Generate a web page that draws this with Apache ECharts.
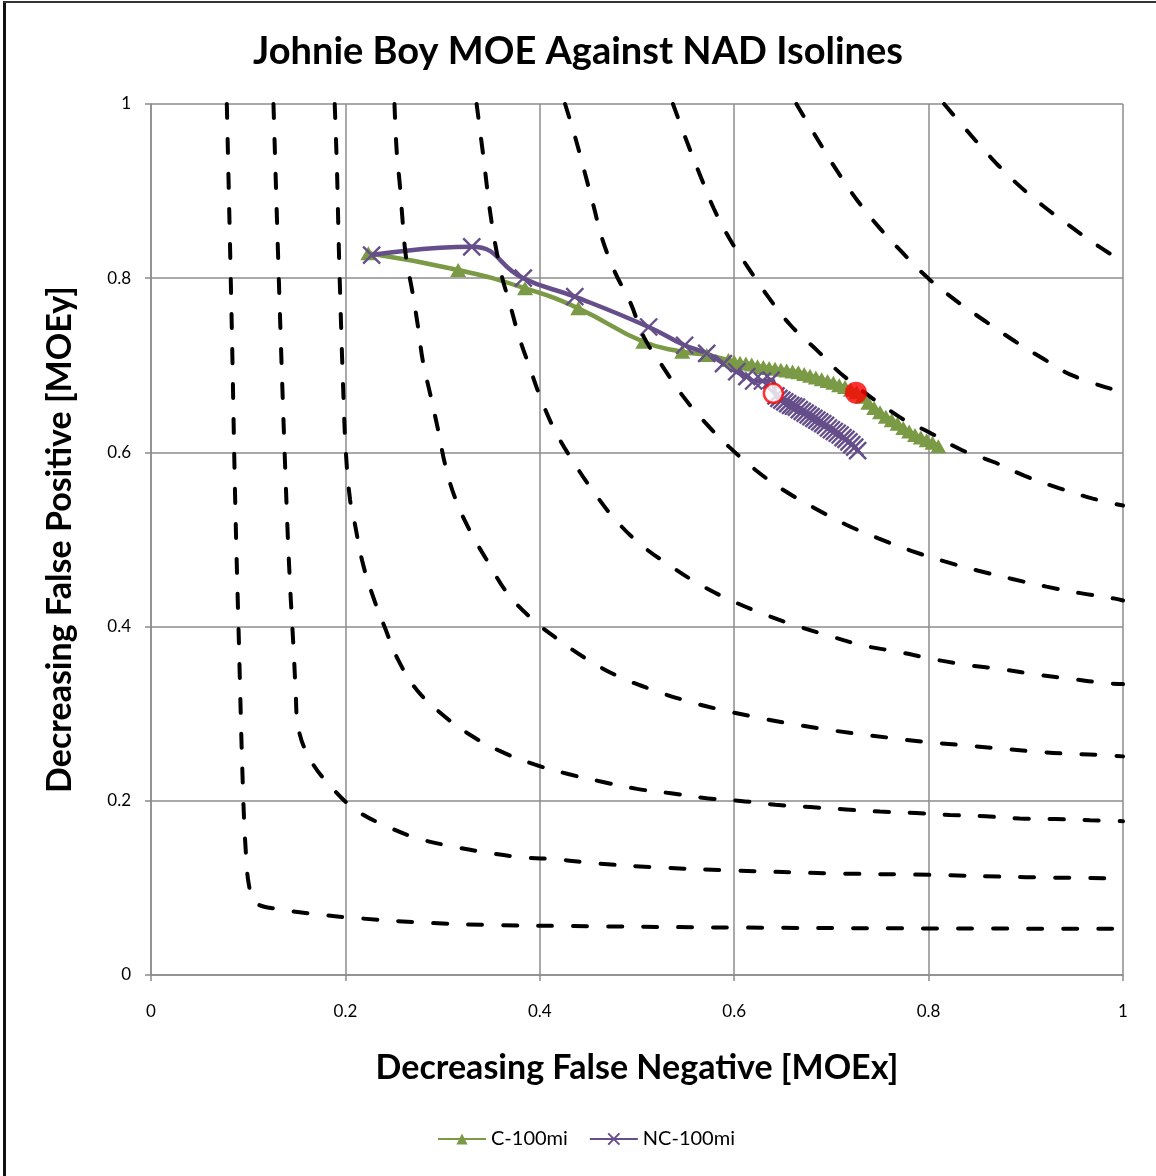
<!DOCTYPE html>
<html>
<head>
<meta charset="utf-8">
<script src="https://cdn.jsdelivr.net/npm/echarts@6/dist/echarts.min.js"></script>
<style>
html,body{margin:0;padding:0;background:#fff;}
#wrap{position:relative;width:1156px;height:1176px;overflow:hidden;background:#fff;}
#chart{position:absolute;left:0;top:0;width:1156px;height:1176px;}
#bl{position:absolute;left:3px;top:1px;width:3px;height:1175px;background:#111;}
#bt{position:absolute;left:3px;top:1px;width:1153px;height:2px;background:#333;}
</style>
</head>
<body>
<div id="wrap"><div id="chart"></div><div id="bl"></div><div id="bt"></div></div>
<script>
// ---------- data ----------
const titleText = 'Johnie Boy MOE Against NAD Isolines';
const xTitle = 'Decreasing False Negative [MOEx]';
const yTitle = 'Decreasing False Positive [MOEy]';
const seriesNames = ['C-100mi', 'NC-100mi'];
const tickLabels = ['0', '0.2', '0.4', '0.6', '0.8', '1'];

// C-100mi (green, triangles)
const c100 = [
 [0.2236,0.8286],[0.316,0.8094],[0.3848,0.7884],[0.4396,0.7654],[0.5065,0.727],[0.5465,0.7156],
 [0.5717,0.7118],[0.594,0.706],[0.600,0.704],[0.606,0.703],[0.612,0.702],[0.618,0.701],[0.624,0.699],
 [0.630,0.698],[0.636,0.697],[0.642,0.696],[0.648,0.695],[0.654,0.694],[0.660,0.693],[0.666,0.692],
 [0.672,0.690],[0.678,0.688],[0.684,0.686],[0.690,0.684],[0.696,0.682],[0.702,0.680],[0.708,0.677],
 [0.714,0.675],[0.720,0.672],[0.726,0.669],[0.732,0.664],[0.738,0.657],[0.744,0.651],[0.750,0.646],
 [0.756,0.641],[0.762,0.637],[0.768,0.633],[0.774,0.628],[0.780,0.624],[0.786,0.620],[0.792,0.617],
 [0.798,0.614],[0.804,0.611],[0.810,0.607]
];
// NC-100mi (purple, crosses)
const nc100 = [
 [0.227,0.8266],[0.33,0.836],[0.383,0.80],[0.436,0.7788],[0.512,0.744],[0.549,0.723],[0.5717,0.7137],
 [0.589,0.702],[0.6026,0.6926],[0.613,0.687],[0.62,0.682],[0.629,0.682],[0.638,0.683],[0.643,0.665],
 [0.646,0.662],[0.649,0.660],[0.652,0.658],[0.655,0.656],[0.658,0.654],[0.661,0.653],[0.664,0.652],
 [0.667,0.649],[0.670,0.647],[0.673,0.645],[0.676,0.643],[0.679,0.641],[0.682,0.639],[0.685,0.637],
 [0.688,0.635],[0.691,0.633],[0.694,0.631],[0.697,0.628],[0.700,0.626],[0.703,0.624],[0.706,0.622],
 [0.709,0.620],[0.712,0.617],[0.715,0.615],[0.718,0.612],[0.721,0.609],[0.724,0.606],[0.727,0.602]
];
// highlighted points
const bestC = [[0.7253,0.6686]];
const bestNC = [[0.6403,0.6678]];

// NAD isolines (dashed)
const iso1 = [[0.078,1],[0.083,0.75],[0.0866,0.546],[0.090,0.4],[0.095,0.2],[0.0983,0.128],[0.1005,0.105],
 [0.104,0.09],[0.11,0.081],[0.1285,0.076],[0.1636,0.0706],[0.2,0.0664],[0.2718,0.0607],[0.344,0.0576],
 [0.452,0.056],[0.6,0.0545],[0.8,0.0535],[1,0.053]];
const iso2 = [[0.126,1],[0.1334,0.733],[0.1398,0.53],[0.143,0.449],[0.145,0.408],[0.147,0.3675],[0.1488,0.3265],
 [0.1512,0.2863],[0.1632,0.2487],[0.1852,0.2162],[0.211,0.1893],[0.2436,0.1702],[0.277,0.156],[0.3124,0.1472],
 [0.3467,0.1403],[0.3828,0.135],[0.4189,0.1327],[0.454,0.1284],[0.5275,0.1232],[0.6,0.12],[0.7,0.1167],
 [0.8,0.115],[0.9,0.1123],[1,0.111]];
const iso3 = [[0.189,1],[0.1914,0.9216],[0.1931,0.8413],[0.1952,0.759],[0.1975,0.68],[0.2005,0.6],[0.2048,0.5456],
 [0.2093,0.5206],[0.2172,0.4758],[0.2275,0.4375],[0.2405,0.3992],[0.2543,0.3617],[0.2735,0.3272],[0.3003,0.2985],
 [0.3285,0.2755],[0.3605,0.2564],[0.3945,0.2418],[0.4292,0.2307],[0.465,0.2216],[0.5,0.2137],[0.5349,0.2086],
 [0.5717,0.203],[0.6066,0.1999],[0.6423,0.1955],[0.6784,0.1928],[0.715,0.19],[0.75,0.1876],[0.787,0.186],
 [0.822,0.1837],[0.8587,0.1822],[0.8937,0.1797],[0.9305,0.179],[0.966,0.1777],[1,0.1766]];
const iso4 = [[0.2505,1],[0.2528,0.945],[0.2562,0.905],[0.2589,0.865],[0.2623,0.8247],[0.2689,0.7845],
 [0.2747,0.7443],[0.2798,0.7041],[0.2877,0.6648],[0.2956,0.6246],[0.3028,0.5852],[0.313,0.5473],[0.3285,0.5092],
 [0.3464,0.4747],[0.366,0.4394],[0.3904,0.4103],[0.4172,0.3866],[0.447,0.3636],[0.4786,0.344],[0.5128,0.3286],
 [0.547,0.316],[0.5816,0.3057],[0.6177,0.297],[0.6523,0.2895],[0.6876,0.2832],[0.7233,0.2773],[0.7586,0.2725],
 [0.7943,0.2678],[0.8311,0.2643],[0.866,0.2607],[0.9029,0.2572],[0.9378,0.2544],[0.9746,0.2528],[1,0.251]];
const iso5 = [[0.335,1],[0.342,0.939],[0.3506,0.863],[0.361,0.802],[0.3686,0.773],[0.3783,0.734],[0.3899,0.6966],
 [0.4023,0.6582],[0.417,0.622],[0.4359,0.5867],[0.4565,0.553],[0.478,0.5224],[0.504,0.494],[0.534,0.47],
 [0.565,0.448],[0.596,0.4305],[0.629,0.415],[0.664,0.401],[0.699,0.389],[0.734,0.378],[0.769,0.371],
 [0.803,0.363],[0.839,0.356],[0.876,0.351],[0.911,0.345],[0.946,0.34],[0.983,0.335],[1,0.334]];
const iso6 = [[0.426,1],[0.4362,0.9626],[0.4457,0.9236],[0.4552,0.8835],[0.464,0.846],[0.4773,0.807],
 [0.4933,0.7716],[0.507,0.7326],[0.527,0.6977],[0.5477,0.664],[0.57,0.6345],[0.5945,0.6066],[0.6232,0.5787],
 [0.6515,0.5562],[0.6828,0.536],[0.7152,0.517],[0.7483,0.5013],[0.7822,0.487],[0.8164,0.4748],[0.8513,0.4641],
 [0.8862,0.4546],[0.9212,0.4459],[0.9562,0.4384],[0.9919,0.4321],[1,0.43]];
const iso7 = [[0.537,1],[0.5516,0.956],[0.565,0.918],[0.579,0.880],[0.5954,0.845],[0.615,0.811],[0.6354,0.778],
 [0.658,0.746],[0.6855,0.7168],[0.7123,0.688],[0.7695,0.641],[0.8014,0.6226],[0.834,0.6028],[0.867,0.589],
 [0.899,0.573],[0.934,0.559],[0.969,0.547],[1,0.539]];
const iso8 = [[0.664,1],[0.6876,0.956],[0.7067,0.9217],[0.7269,0.889],[0.7497,0.8575],[0.7734,0.829],[0.8,0.7995],
 [0.8278,0.7746],[0.8583,0.7506],[0.8888,0.7276],[0.9193,0.7066],[0.9497,0.6875],[1,0.669]];
const iso9 = [[0.816,1],[0.839,0.970],[0.8648,0.9377],[0.8895,0.910],[0.9173,0.8835],[0.946,0.8594],[0.975,0.8365],[1,0.819]];
const isolines = [iso1, iso2, iso3, iso4, iso5, iso6, iso7, iso8, iso9];

// ---------- chart ----------
const FONT = 'Lato, "Open Sans", sans-serif';
const GREEN = '#7A9A46', PURPLE = '#654E89', GRID = '#8C8C8C';
const chart = echarts.init(document.getElementById('chart'), null, {renderer: 'canvas'});

const axisCommon = {
  type: 'value', min: 0, max: 1, interval: 0.2,
  axisLine: {show: true, lineStyle: {color: GRID, width: 1.5}},
  axisTick: {show: true, length: 6, inside: false, lineStyle: {color: GRID, width: 1.5}},
  splitLine: {show: true, lineStyle: {color: GRID, width: 1.5}},
  axisLabel: {color: '#000', fontSize: 17, fontFamily: FONT,
    formatter: v => tickLabels[Math.round(v / 0.2)]},
  nameLocation: 'middle',
  nameTextStyle: {color: '#000', fontSize: 34, fontWeight: 'bold', fontFamily: FONT}
};

const series = [];
series.push({
  name: seriesNames[0], type: 'line', data: c100, smooth: true, z: 3,
  symbol: 'triangle', symbolSize: [16, 14], showAllSymbol: true,
  lineStyle: {color: GREEN, width: 4.5}, itemStyle: {color: GREEN}
});
series.push({
  name: seriesNames[1], type: 'line', data: nc100, smooth: true, z: 3,
  symbol: 'path://M0,0L10,10M10,0L0,10', symbolSize: 17, showAllSymbol: true,
  lineStyle: {color: PURPLE, width: 4.5},
  itemStyle: {color: PURPLE, borderColor: '#654E89', borderWidth: 2.4}
});
isolines.forEach((d, i) => series.push({
  name: 'iso' + (i + 1), type: 'line', data: d, smooth: 0.4, z: 4, silent: true,
  showSymbol: false, symbol: 'none',
  lineStyle: {color: '#000', width: 4, type: [14, 21], cap: 'round'}
}));
series.push({
  name: 'bestC', type: 'scatter', data: bestC, z: 6, symbol: 'circle', symbolSize: 22,
  itemStyle: {color: '#FF0000'}
});
series.push({
  name: 'bestNC', type: 'scatter', data: bestNC, z: 6, symbol: 'circle', symbolSize: 19,
  itemStyle: {color: '#fff', borderColor: '#FF0000', borderWidth: 2.5}
});

chart.setOption({
  animation: false,
  backgroundColor: '#fff',
  title: {text: titleText, left: 'center', top: 28,
    textStyle: {fontSize: 38, fontWeight: 'bold', color: '#000', fontFamily: FONT}},
  grid: {left: 151, right: 33, top: 104, bottom: 201, containLabel: false},
  xAxis: Object.assign({}, axisCommon, {name: xTitle, nameGap: 76,
    axisLabel: Object.assign({}, axisCommon.axisLabel, {margin: 28})}),
  yAxis: Object.assign({}, axisCommon, {name: yTitle, nameGap: 74,
    axisLabel: Object.assign({}, axisCommon.axisLabel, {margin: 20})}),
  legend: {data: seriesNames, bottom: 22, left: 432, itemWidth: 48, itemHeight: 14, itemGap: 21,
    textStyle: {fontSize: 20, color: '#000', fontFamily: FONT}},
  series: series
});
</script>
</body>
</html>
